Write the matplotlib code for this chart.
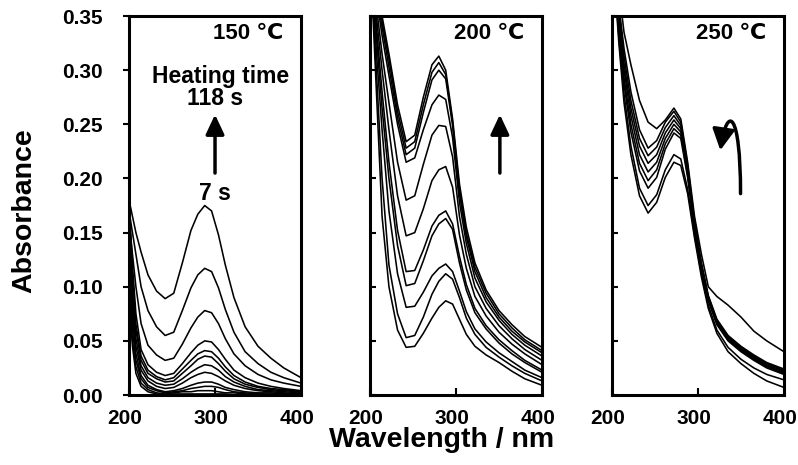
import matplotlib
matplotlib.use('Agg')
import matplotlib.pyplot as plt
import matplotlib.transforms as mtransforms
from matplotlib.patches import FancyArrowPatch
from matplotlib.path import Path
from matplotlib.ticker import FormatStrFormatter

plt.rcParams['font.family'] = ['Liberation Sans', 'DejaVu Sans']
plt.rcParams['font.weight'] = 'bold'

# ---------------- data ----------------
wavelength = [200, 204, 208, 214, 222, 232, 242, 252, 262, 272, 280,
              288, 296, 304, 312, 322, 335, 350, 365, 380, 400]

temperatures = ['150 ℃', '200 ℃', '250 ℃']

spectra_150 = [
    [0.180, 0.165, 0.150, 0.132, 0.111, 0.096, 0.089, 0.094, 0.122, 0.152, 0.167, 0.175, 0.170, 0.148, 0.120, 0.090, 0.063, 0.045, 0.034, 0.025, 0.016],
    [0.170, 0.150, 0.130, 0.100, 0.078, 0.063, 0.055, 0.058, 0.078, 0.099, 0.111, 0.117, 0.114, 0.099, 0.079, 0.058, 0.040, 0.029, 0.021, 0.016, 0.011],
    [0.160, 0.130, 0.100, 0.066, 0.046, 0.037, 0.032, 0.034, 0.047, 0.062, 0.072, 0.078, 0.076, 0.066, 0.052, 0.038, 0.027, 0.019, 0.014, 0.011, 0.008],
    [0.180, 0.120, 0.075, 0.042, 0.028, 0.021, 0.018, 0.020, 0.029, 0.039, 0.046, 0.050, 0.049, 0.042, 0.033, 0.023, 0.016, 0.011, 0.008, 0.006, 0.004],
    [0.170, 0.110, 0.065, 0.036, 0.023, 0.017, 0.014, 0.016, 0.024, 0.032, 0.038, 0.041, 0.040, 0.034, 0.026, 0.018, 0.012, 0.008, 0.006, 0.005, 0.003],
    [0.140, 0.100, 0.060, 0.032, 0.020, 0.015, 0.012, 0.013, 0.020, 0.027, 0.033, 0.036, 0.035, 0.029, 0.022, 0.015, 0.010, 0.007, 0.005, 0.004, 0.003],
    [0.160, 0.090, 0.052, 0.027, 0.016, 0.011, 0.009, 0.010, 0.015, 0.021, 0.025, 0.028, 0.027, 0.023, 0.017, 0.012, 0.008, 0.005, 0.004, 0.003, 0.002],
    [0.130, 0.080, 0.045, 0.023, 0.013, 0.008, 0.006, 0.007, 0.011, 0.016, 0.019, 0.021, 0.020, 0.017, 0.013, 0.009, 0.006, 0.004, 0.003, 0.002, 0.001],
    [0.120, 0.070, 0.038, 0.018, 0.009, 0.005, 0.003, 0.004, 0.006, 0.009, 0.011, 0.012, 0.012, 0.010, 0.007, 0.005, 0.003, 0.002, 0.002, 0.001, 0.001],
    [0.110, 0.060, 0.032, 0.015, 0.007, 0.004, 0.002, 0.003, 0.004, 0.006, 0.007, 0.008, 0.008, 0.007, 0.005, 0.003, 0.002, 0.001, 0.001, 0.001, 0.000],
    [0.100, 0.050, 0.026, 0.011, 0.005, 0.002, 0.001, 0.002, 0.003, 0.003, 0.004, 0.004, 0.004, 0.003, 0.002, 0.002, 0.001, 0.001, 0.000, 0.000, 0.000],
    [0.090, 0.045, 0.020, 0.008, 0.003, 0.001, 0.000, 0.001, 0.001, 0.001, 0.001, 0.001, 0.001, 0.001, 0.001, 0.000, 0.000, 0.000, 0.000, 0.000, 0.000],
]

spectra_200 = [
    [0.42, 0.40, 0.380, 0.350, 0.315, 0.268, 0.234, 0.240, 0.275, 0.305, 0.313, 0.300, 0.255, 0.195, 0.155, 0.122, 0.097, 0.078, 0.065, 0.054, 0.044],
    [0.42, 0.40, 0.375, 0.345, 0.310, 0.262, 0.228, 0.234, 0.268, 0.298, 0.307, 0.296, 0.252, 0.190, 0.150, 0.118, 0.094, 0.075, 0.062, 0.051, 0.041],
    [0.42, 0.395, 0.370, 0.340, 0.303, 0.256, 0.222, 0.228, 0.261, 0.291, 0.300, 0.292, 0.249, 0.186, 0.146, 0.114, 0.090, 0.072, 0.059, 0.049, 0.039],
    [0.42, 0.39, 0.365, 0.332, 0.295, 0.250, 0.215, 0.219, 0.245, 0.268, 0.277, 0.273, 0.238, 0.178, 0.140, 0.108, 0.086, 0.069, 0.056, 0.046, 0.036],
    [0.42, 0.385, 0.355, 0.315, 0.270, 0.215, 0.180, 0.184, 0.213, 0.240, 0.249, 0.248, 0.220, 0.165, 0.130, 0.100, 0.080, 0.064, 0.052, 0.042, 0.032],
    [0.42, 0.38, 0.345, 0.300, 0.245, 0.184, 0.147, 0.150, 0.172, 0.198, 0.208, 0.211, 0.192, 0.148, 0.117, 0.091, 0.073, 0.058, 0.047, 0.038, 0.028],
    [0.42, 0.375, 0.335, 0.280, 0.215, 0.152, 0.114, 0.115, 0.134, 0.156, 0.166, 0.170, 0.158, 0.128, 0.102, 0.080, 0.064, 0.051, 0.041, 0.032, 0.023],
    [0.42, 0.37, 0.325, 0.265, 0.200, 0.138, 0.101, 0.103, 0.124, 0.147, 0.158, 0.163, 0.153, 0.122, 0.097, 0.076, 0.061, 0.048, 0.038, 0.030, 0.021],
    [0.42, 0.36, 0.310, 0.245, 0.170, 0.112, 0.081, 0.082, 0.095, 0.110, 0.117, 0.121, 0.114, 0.096, 0.077, 0.061, 0.049, 0.039, 0.031, 0.023, 0.016],
    [0.42, 0.35, 0.290, 0.200, 0.120, 0.075, 0.053, 0.055, 0.072, 0.093, 0.105, 0.112, 0.107, 0.090, 0.071, 0.056, 0.044, 0.035, 0.027, 0.020, 0.013],
    [0.42, 0.34, 0.270, 0.165, 0.100, 0.060, 0.044, 0.045, 0.057, 0.071, 0.081, 0.087, 0.084, 0.070, 0.056, 0.045, 0.037, 0.030, 0.022, 0.015, 0.009],
]

spectra_250 = [
    [0.42, 0.40, 0.375, 0.335, 0.305, 0.272, 0.252, 0.246, 0.254, 0.265, 0.255, 0.215, 0.165, 0.130, 0.100, 0.091, 0.083, 0.072, 0.059, 0.050, 0.040],
    [0.42, 0.39, 0.360, 0.320, 0.280, 0.245, 0.228, 0.235, 0.252, 0.262, 0.252, 0.212, 0.160, 0.122, 0.092, 0.070, 0.055, 0.045, 0.037, 0.030, 0.024],
    [0.42, 0.39, 0.355, 0.313, 0.272, 0.237, 0.221, 0.229, 0.247, 0.258, 0.249, 0.210, 0.158, 0.121, 0.091, 0.069, 0.054, 0.044, 0.036, 0.029, 0.023],
    [0.42, 0.385, 0.350, 0.306, 0.265, 0.230, 0.214, 0.222, 0.242, 0.254, 0.246, 0.207, 0.156, 0.119, 0.090, 0.068, 0.053, 0.043, 0.035, 0.028, 0.022],
    [0.42, 0.385, 0.345, 0.300, 0.258, 0.222, 0.206, 0.215, 0.237, 0.250, 0.243, 0.205, 0.155, 0.118, 0.089, 0.067, 0.052, 0.042, 0.034, 0.027, 0.021],
    [0.42, 0.38, 0.340, 0.293, 0.250, 0.214, 0.198, 0.208, 0.232, 0.246, 0.240, 0.203, 0.154, 0.117, 0.088, 0.066, 0.051, 0.041, 0.033, 0.026, 0.020],
    [0.42, 0.38, 0.335, 0.287, 0.243, 0.207, 0.191, 0.201, 0.227, 0.242, 0.237, 0.201, 0.153, 0.116, 0.087, 0.065, 0.050, 0.040, 0.032, 0.025, 0.019],
    [0.42, 0.375, 0.330, 0.278, 0.230, 0.191, 0.175, 0.185, 0.208, 0.222, 0.218, 0.190, 0.148, 0.112, 0.083, 0.060, 0.044, 0.033, 0.025, 0.019, 0.014],
    [0.42, 0.37, 0.325, 0.270, 0.222, 0.184, 0.168, 0.178, 0.201, 0.215, 0.212, 0.186, 0.145, 0.109, 0.080, 0.057, 0.040, 0.029, 0.020, 0.013, 0.007],
]

x_ticks = [200, 300, 400]
y_ticks = [0.00, 0.05, 0.10, 0.15, 0.20, 0.25, 0.30, 0.35]

# ---------------- figure ----------------
fig = plt.figure(figsize=(7.98, 4.65), dpi=100)
lefts = [0.1617, 0.4637, 0.7669]
all_spectra = [spectra_150, spectra_200, spectra_250]
shift = mtransforms.ScaledTranslation(-4 / 100, 0, fig.dpi_scale_trans)
axes = []
for i, (left, spectra) in enumerate(zip(lefts, all_spectra)):
    ax = fig.add_axes([left, 0.1505, 0.2155, 0.815])
    for s in spectra:
        ax.plot(wavelength, s, color='black', lw=1.15)
    ax.set_xlim(200, 400)
    ax.set_ylim(0, 0.35)
    ax.set_xticks(x_ticks)
    ax.set_yticks(y_ticks)
    ax.yaxis.set_major_formatter(FormatStrFormatter('%.2f'))
    for sp in ax.spines.values():
        sp.set_linewidth(2.2)
    ax.tick_params(axis='x', direction='in', length=5, width=1.5, pad=10,
                   labelsize=15)
    if i == 0:
        ax.tick_params(axis='y', direction='out', length=4, width=1.5,
                       pad=15, labelsize=15)
    else:
        ax.tick_params(axis='y', direction='in', length=4, width=1.5,
                       labelleft=False)
    for lab in ax.get_xticklabels() + ax.get_yticklabels():
        lab.set_fontweight('bold')
    for lab in ax.get_xticklabels():
        lab.set_transform(lab.get_transform() + shift)
    ax.text(338, 0.334, temperatures[i], ha='center', va='center',
            fontsize=16, fontweight='bold')
    axes.append(ax)

arrow_kw = dict(arrowstyle='-|>,head_length=0.85,head_width=0.4', lw=2.5,
                color='black', mutation_scale=14, shrinkA=0, shrinkB=0)

ax1 = axes[0]
ax1.text(306, 0.294, 'Heating time', ha='center', va='center', fontsize=16.5)
ax1.text(300, 0.274, '118 s', ha='center', va='center', fontsize=16.5)
ax1.text(300, 0.186, '7 s', ha='center', va='center', fontsize=16.5)
ax1.annotate('', xy=(300, 0.259), xytext=(300, 0.205), arrowprops=arrow_kw)

ax2 = axes[1]
ax2.annotate('', xy=(351, 0.259), xytext=(351, 0.205), arrowprops=arrow_kw)

ax3 = axes[2]
verts = [(349.5, 0.186), (349.5, 0.263), (334, 0.268), (326, 0.226)]
codes = [Path.MOVETO, Path.CURVE4, Path.CURVE4, Path.CURVE4]
curved = FancyArrowPatch(path=Path(verts, codes),
                         arrowstyle='-|>,head_length=0.85,head_width=0.45',
                         lw=2.5, color='black', mutation_scale=15)
ax3.add_patch(curved)

fig.text(0.03, 0.548, 'Absorbance', rotation=90, ha='center', va='center',
         fontsize=20.5, fontweight='bold')
fig.text(0.553, 0.054, 'Wavelength / nm', ha='center', va='center',
         fontsize=20.5, fontweight='bold')

fig.savefig('out.png', dpi=100)
